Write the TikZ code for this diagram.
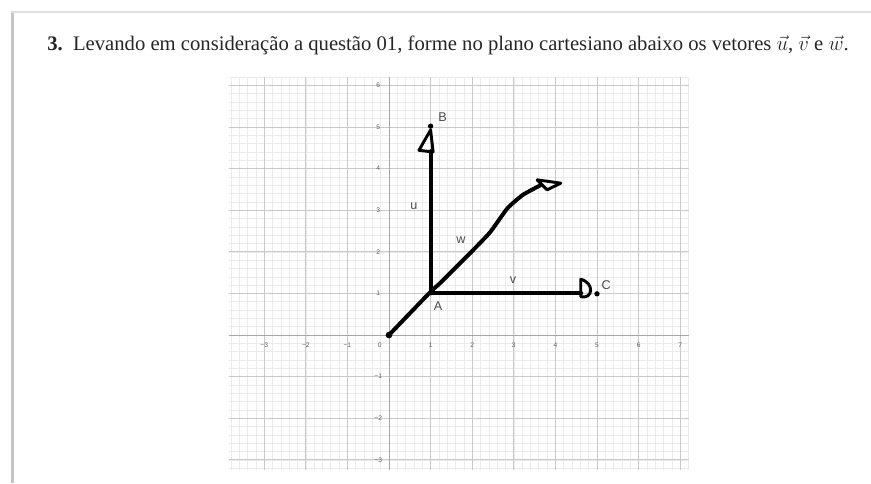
\documentclass[tikz,border=0pt]{standalone}
\usepackage{graphicx}
\usepackage{fontspec}
\setmainfont{Liberation Serif}
\setsansfont{Liberation Sans}
\begin{document}
\begin{tikzpicture}[x=0.75pt,y=-0.75pt,
  tick/.style={font=\sffamily\fontsize{5}{6}\selectfont, text=gray!75!black, inner sep=0pt},
  ptlabel/.style={font=\sffamily\fontsize{9.5}{10}\selectfont, text=black!70, inner sep=0pt},
  hand/.style={line width=3pt, line cap=round, line join=round},
  head/.style={line width=2.2pt, line join=round},
  dot/.style={circle, fill=black, inner sep=0pt, minimum size=4pt}]
\useasboundingbox (0,0) rectangle (871,483);
\fill[white] (0,0) rectangle (871,483);
% page edge
\fill[gray!45] (11,12) rectangle (14,483);
\draw[gray!25, line width=1.2pt] (11,12) -- (871,12);
% title
\node[anchor=west, inner sep=0pt, text=black!85] (title) at (47,45)
  {\resizebox{601pt}{!}{\fontsize{12}{14}\selectfont\textbf{3.}\enspace Levando em consideração a questão 01, forme no plano cartesiano abaixo os vetores $\vec{u}$, $\vec{v}$ e $\vec{w}$.}};
\begin{scope}[shift={(389,335)}, x=31.2pt, y=31.2pt]
  \draw[gray!16, line width=0.4pt] (-3.85,-3.25) grid[step=0.2] (7.2,6.2);
  \draw[gray!42, line width=0.5pt] (-3.85,-3.25) grid[step=1] (7.2,6.2);
  \draw[gray!70, line width=0.7pt] (-3.85,0) -- (7.2,0);
  \draw[gray!70, line width=0.7pt] (0,-3.25) -- (0,6.2);
  % tick labels
  \foreach \i/\t in {-3/−3,-2/−2,-1/−1,1/1,2/2,3/3,4/4,5/5,6/6,7/7}
    \node[tick] (tx\i) at (\i,-0.25) {\t};
  \node[tick] (tx0) at (-0.22,-0.25) {0};
  \foreach \j/\t in {-3/−3,-2/−2,-1/−1,1/1,2/2,3/3,4/4,5/5,6/6}
    \node[tick] (ty\j) at (-0.26,\j) {\t};
  % points
  \coordinate (O) at (0,0);
  \coordinate (A) at (1,1);
  \coordinate (B) at (1,5.02);
  \coordinate (C) at (5,0.99);
  \coordinate (uend) at (1,4.42);
  \coordinate (vend) at (4.62,1.0);
  \coordinate (wend) at (3.64,3.6);
  % vector u
  \draw[hand] (A) -- (uend);
  \draw[head] (1.0,4.93) -- (0.72,4.44) -- (1.06,4.40) -- cycle;
  % vector v
  \draw[hand] (A) -- (vend);
  \draw[head] (4.61,1.34) .. controls (4.95,1.25) and (4.9,0.85) .. (4.61,0.92) -- cycle;
  % vector w
  \draw[hand] plot[smooth, tension=0.3] coordinates {(O) (0.99,1.03) (1.23,1.25) (2.02,2.04) (2.43,2.47) (2.85,3.05) (3.22,3.37) (wend)};
  \draw[head] (3.56,3.73) -- (4.13,3.65) -- (3.80,3.49) -- cycle;
  \node[dot, minimum size=5pt] (Odot) at (O) {};
  \node[dot] (Bdot) at (B) {};
  \node[dot] (Cdot) at (C) {};
  % labels
  \node[ptlabel] (Blab) at (1.29,5.24) {B};
  \node[ptlabel] (Clab) at (5.22,1.2) {C};
  \node[ptlabel] (Alab) at (1.18,0.7) {A};
  \node[ptlabel] (ulab) at (0.6,3.1) {u};
  \node[ptlabel] (wlab) at (1.73,2.28) {w};
  \node[ptlabel] (vlab) at (2.98,1.32) {v};
\end{scope}
\end{tikzpicture}
\end{document}
